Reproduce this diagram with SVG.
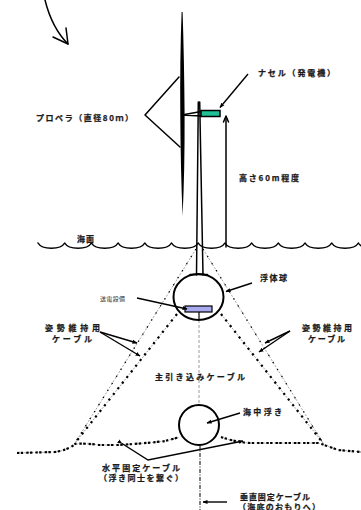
<svg xmlns="http://www.w3.org/2000/svg" width="361" height="510" viewBox="0 0 361 510">
  <defs>
    <marker id="tip" viewBox="0 0 10 10" refX="9" refY="5" markerWidth="5" markerHeight="5" markerUnits="userSpaceOnUse" orient="auto">
      <path d="M0,1 L10,5 L0,9 Z" fill="#000"/>
    </marker>
  </defs>
  <style>
    .lbl { font-family: "Noto Sans CJK JP", "Noto Sans", sans-serif; font-weight: bold; font-size: 8px; fill: #1a1a1a; stroke: #1a1a1a; stroke-width: 0.25; }
    .small { font-family: "Noto Sans CJK JP", "Noto Sans", sans-serif; font-size: 6px; fill: #333; }
    .ln { fill: none; stroke: #000; stroke-width: 1.5; stroke-linecap: round; stroke-linejoin: round; }
    .lead { fill: none; stroke: #000; stroke-width: 1.4; marker-end: url(#tip); }
    .grey { fill: none; stroke: #9a9a9a; stroke-width: 0.9; stroke-dasharray: 2 1.6; }
    .fine { fill: none; stroke: #000; stroke-width: 1.3; stroke-dasharray: 1.3 7; }
    .heavy { fill: none; stroke: #000; stroke-width: 2.2; stroke-dasharray: 2.2 5; }
    .flat { fill: none; stroke: #000; stroke-width: 2.2; stroke-dasharray: 2.4 1.4 2.4 3; }
  </style>

  <!-- motion hint arrow, top left -->
  <g id="swing-arrow">
    <path class="ln" d="M45,0 Q52,28 68,44"/>
    <path class="ln" d="M53,37 L68,44 L66,28"/>
  </g>

  <!-- rotor blade -->
  <g id="propeller">
    <path d="M181.6,12 Q179.8,60 180.3,115 Q180.6,170 182.6,216 Q184.8,170 184.6,115 Q184.2,60 182.6,12 Z" fill="#000"/>
    <path class="ln" d="M201,111.5 L182,115 L201,116"/>
    <path class="ln" d="M179,77 L145,115 L180,147"/>
    <text class="lbl" x="36" y="121" textLength="97" lengthAdjust="spacing">プロペラ（直径80ｍ）</text>
  </g>

  <!-- tower -->
  <g id="tower">
    <path class="ln" d="M198.3,102 L196.5,275"/>
    <path class="ln" d="M199.7,102 L203,275"/>
  </g>

  <!-- nacelle -->
  <g id="nacelle">
    <rect x="201" y="110.5" width="19" height="6" fill="#1fc095" stroke="#000" stroke-width="1.5"/>
    <path class="lead" d="M248,74 L220,107.5"/>
    <text class="lbl" x="258" y="76" textLength="77" lengthAdjust="spacing">ナセル（発電機）</text>
  </g>

  <!-- hub height -->
  <g id="height">
    <path class="ln" d="M226,247 L226,117"/>
    <path class="ln" d="M223.5,122 L226,116 L228.5,122"/>
    <text class="lbl" x="239" y="181" textLength="60" lengthAdjust="spacing">高さ60m程度</text>
  </g>

  <!-- sea surface -->
  <g id="sea-surface">
    <path class="ln" stroke-width="1.7" d="M38,243 C42,250 60.7,250 64.7,243 C68.7,250 87.4,250 91.4,243 C95.4,250 114.1,250 118.1,243 C122.1,250 140.8,250 144.8,243 C148.8,250 167.5,250 171.5,243 C175.5,250 194.2,250 198.2,243 C202.2,250 220.9,250 224.9,243 C228.9,250 247.6,250 251.6,243 C255.6,250 274.3,250 278.3,243 C282.3,250 301,250 305,243 C309,250 327.7,250 331.7,243 C335.7,250 354.4,250 358.4,243 C362.4,250 381,250 385,243"/>
    <text class="lbl" x="77" y="241.5" textLength="17" lengthAdjust="spacing">海面</text>
  </g>

  <!-- connectors: mooring and main cables -->
  <g id="cables">
    <!-- outer attitude cables from tower foot -->
    <path class="grey" d="M196,249 L75,443"/>
    <path class="fine" d="M196,249 L75,443"/>
    <path class="grey" d="M203,249 L323,443"/>
    <path class="fine" d="M203,249 L323,443"/>
    <!-- inner attitude cables from buoy -->
    <path class="grey" d="M177,314 L75,443"/>
    <path class="heavy" d="M177,314 L75,443"/>
    <path class="grey" d="M221,314 L323,443"/>
    <path class="heavy" d="M221,314 L323,443"/>
    <!-- horizontal fixing cable -->
    <path class="grey" d="M17,453 L55,452 Q68,450 75,444 Q85,443 100,445 L118,445 Q150,443 165,441 L180,437"/>
    <path class="flat" d="M17,453 L55,452 Q68,450 75,444 Q85,443 100,445 L118,445 Q150,443 165,441 L180,437"/>
    <path class="grey" d="M221,437 Q235,442 250,443 L318,443 Q328,446 338,450 L361,452"/>
    <path class="flat" d="M221,437 Q235,442 250,443 L318,443 Q328,446 338,450 L361,452"/>
    <!-- main lead-in cable -->
    <path d="M199,312 L199,320" stroke="#000" stroke-width="1.2"/>
    <path d="M199,320 L199,405" stroke="#9a9a9a" stroke-width="1" stroke-dasharray="3 2" fill="none"/>
    <!-- vertical fixing cable -->
    <path d="M200,445 L200,510" stroke="#000" stroke-width="1" stroke-dasharray="4 1.5 1 1.5" fill="none"/>
  </g>

  <!-- floating sphere -->
  <g id="float-sphere">
    <ellipse cx="198.5" cy="297" rx="25" ry="23" fill="none" stroke="#000" stroke-width="2"/>
    <path class="ln" d="M190,274.5 L207.5,274.5"/>
    <path class="lead" d="M252,283 L226,291.5"/>
    <text class="lbl" x="260" y="281" textLength="27" lengthAdjust="spacing">浮体球</text>
  </g>

  <!-- power transmission equipment -->
  <g id="transmission">
    <rect x="185" y="306" width="27" height="6" fill="#a9a9f0" stroke="#000" stroke-width="1.2"/>
    <path class="lead" d="M137,298 L187,309"/>
    <text class="small" x="100" y="301" textLength="25" lengthAdjust="spacing">送電設備</text>
  </g>

  <!-- attitude cable labels -->
  <g id="attitude-left">
    <text class="lbl" x="45" y="330.5" textLength="55" lengthAdjust="spacing">姿勢維持用</text>
    <text class="lbl" x="52" y="342" textLength="40" lengthAdjust="spacing">ケーブル</text>
    <path class="lead" d="M100,332 L137,343"/>
    <path class="lead" d="M100,332 L140,356"/>
  </g>
  <g id="attitude-right">
    <text class="lbl" x="302" y="331" textLength="50" lengthAdjust="spacing">姿勢維持用</text>
    <text class="lbl" x="308" y="342" textLength="37" lengthAdjust="spacing">ケーブル</text>
    <path class="lead" d="M290,331 L265,343"/>
    <path class="lead" d="M290,331 L259,352"/>
  </g>

  <g id="main-cable">
    <text class="lbl" x="155" y="380" textLength="90" lengthAdjust="spacing">主引き込みケーブル</text>
  </g>

  <!-- subsea float -->
  <g id="subsea-float">
    <circle cx="199" cy="425" r="20" fill="none" stroke="#000" stroke-width="2"/>
    <path class="lead" d="M240,413 L207,423"/>
    <text class="lbl" x="243" y="415" textLength="39" lengthAdjust="spacing">海中浮き</text>
  </g>

  <g id="horizontal-label">
    <path fill="none" stroke="#000" stroke-width="1.4" marker-start="url(#tip)" marker-end="url(#tip)" d="M122,443.5 L148,460 L243,441"/>
    <text class="lbl" x="102" y="471" textLength="78" lengthAdjust="spacing">水平固定ケーブル</text>
    <text class="lbl" x="99" y="481" textLength="84" lengthAdjust="spacing">（浮き同士を繋ぐ）</text>
  </g>

  <g id="vertical-label">
    <path class="lead" d="M227,502 L203,502"/>
    <text class="lbl" x="240" y="500" textLength="70" lengthAdjust="spacing">垂直固定ケーブル</text>
    <text class="lbl" x="238" y="509.5" textLength="82" lengthAdjust="spacing">（海底のおもりへ）</text>
  </g>
</svg>
